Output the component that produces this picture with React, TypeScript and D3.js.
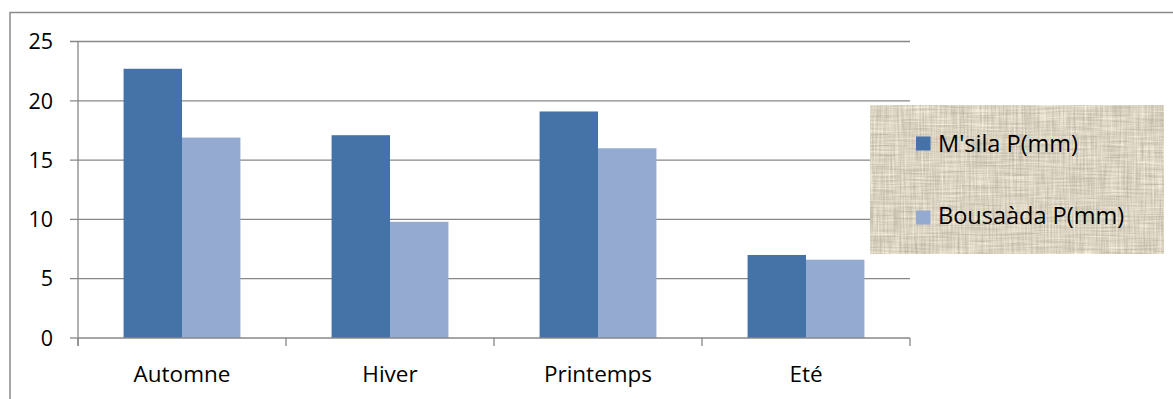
import React from "react";
import * as d3 from "d3";

// Seasonal precipitation (mm) for two stations
const seasons = ["Automne", "Hiver", "Printemps", "Eté"];
const seriesNames = ["M'sila P(mm)", "Bousaàda P(mm)"];
const msila = [22.7, 17.1, 19.1, 7.0];
const bousaada = [16.9, 9.8, 16.0, 6.6];
const yTicks = [0, 5, 10, 15, 20, 25];
const seriesColors = ["#4572A7", "#95AAD1"];

const W = 1173;
const H = 399;
const FONT = "'Open Sans', 'Liberation Sans', sans-serif";

export default function App() {
  const plotLeft = 78;
  const plotRight = 910;
  const plotTop = 41.5;
  const plotBottom = 338;

  const x = d3.scaleBand<string>().domain(seasons).range([plotLeft, plotRight]).paddingInner(0).paddingOuter(0);
  const xInner = d3
    .scaleBand<string>()
    .domain(seriesNames)
    .range([0, x.bandwidth()])
    .paddingInner(0)
    .paddingOuter(0.78);
  const y = d3.scaleLinear().domain([0, 25]).range([plotBottom, plotTop]);

  const values = [msila, bousaada];
  const boundaries = [...seasons.map((s) => x(s) as number), plotRight];

  const legend = { x: 870, y: 105, w: 294, h: 149 };

  return (
    <svg
      width={W}
      height={H}
      viewBox={`0 0 ${W} ${H}`}
      style={{ position: "absolute", left: 0, top: 0, background: "#fff" }}
    >
      <defs>
        {/* woven canvas fill for the legend panel */}
        <filter id="linen" x="0" y="0" width="100%" height="100%" colorInterpolationFilters="sRGB">
          <feTurbulence type="fractalNoise" baseFrequency="0.55 0.03" numOctaves="2" seed="3" result="h" />
          <feTurbulence type="fractalNoise" baseFrequency="0.03 0.55" numOctaves="2" seed="7" result="v" />
          <feTurbulence type="fractalNoise" baseFrequency="0.9 0.9" numOctaves="1" seed="11" result="g" />
          <feComposite in="h" in2="v" operator="arithmetic" k1="0" k2="0.45" k3="0.45" k4="0" result="hv" />
          <feComposite in="hv" in2="g" operator="arithmetic" k1="0" k2="1" k3="0.12" k4="0" result="mix" />
          <feColorMatrix
            in="mix"
            type="matrix"
            values="0.5 0 0 0 0.605
                    0.5 0 0 0 0.575
                    0.5 0 0 0 0.505
                    0 0 0 0 1"
          />
        </filter>
      </defs>

      {/* chart frame */}
      <rect x={10} y={12.5} width={W + 10} height={H + 10} fill="none" stroke="#8a8a8a" strokeWidth={1.5} />

      {/* horizontal gridlines and y ticks */}
      {yTicks.map((t) => (
        <g key={t}>
          <line x1={70} x2={t === 0 ? plotLeft : plotRight} y1={y(t)} y2={y(t)} stroke="#878787" strokeWidth={1.3} />
          <text
            x={53}
            y={y(t)}
            dy="0.36em"
            textAnchor="end"
            fontFamily={FONT}
            fontSize={21.5}
            fill="#000"
          >
            {t}
          </text>
        </g>
      ))}

      {/* bars */}
      {seasons.map((s, i) => (
        <g key={s} transform={`translate(${x(s)},0)`}>
          {seriesNames.map((n, j) => (
            <rect
              key={n}
              x={xInner(n)}
              y={y(values[j][i])}
              width={xInner.bandwidth()}
              height={plotBottom - y(values[j][i])}
              fill={seriesColors[j]}
            />
          ))}
        </g>
      ))}

      {/* axes */}
      <line x1={plotLeft} x2={plotLeft} y1={plotTop} y2={plotBottom + 8} stroke="#878787" strokeWidth={1.3} />
      <line x1={plotLeft} x2={plotRight} y1={plotBottom} y2={plotBottom} stroke="#878787" strokeWidth={1.3} />
      {boundaries.map((b, i) => (
        <line key={i} x1={b} x2={b} y1={plotBottom} y2={plotBottom + 8} stroke="#878787" strokeWidth={1.3} />
      ))}

      {/* category labels */}
      {seasons.map((s) => (
        <text
          key={s}
          x={(x(s) as number) + x.bandwidth() / 2}
          y={382}
          textAnchor="middle"
          fontFamily={FONT}
          fontSize={22.5}
          fill="#000"
        >
          {s}
        </text>
      ))}

      {/* legend */}
      <rect x={legend.x} y={legend.y} width={legend.w} height={legend.h} fill="#d8cfbd" />
      <rect x={legend.x} y={legend.y} width={legend.w} height={legend.h} filter="url(#linen)" />
      {seriesNames.map((n, j) => (
        <g key={n}>
          <rect x={916} y={136.5 + j * 74} width={14.5} height={14} fill={seriesColors[j]} />
          <text x={938} y={151.5 + j * 72} fontFamily={FONT} fontSize={23.5} fill="#000">
            {n}
          </text>
        </g>
      ))}
    </svg>
  );
}
